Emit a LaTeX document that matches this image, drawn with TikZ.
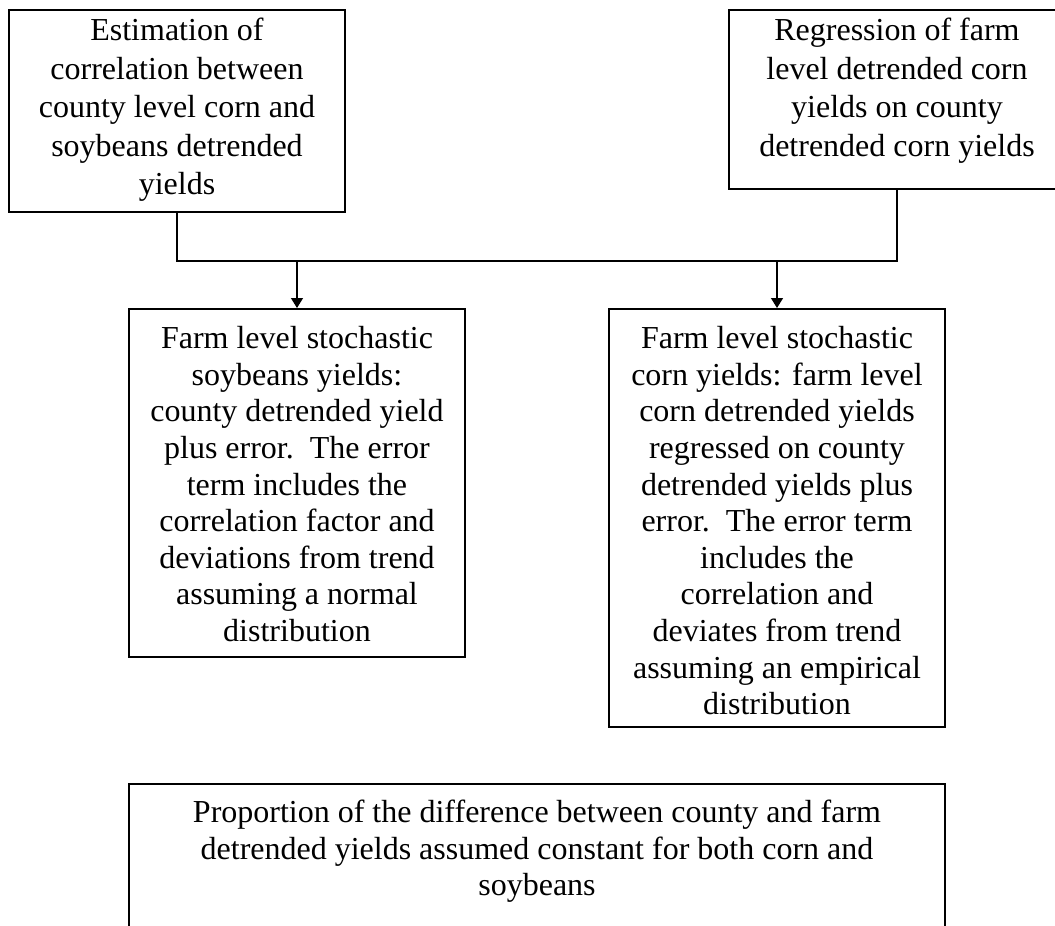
\documentclass[tikz,border=0pt]{standalone}
\usepackage{fontspec}
\setmainfont{Liberation Serif}
\usetikzlibrary{arrows.meta}
\newcommand{\bxt}[5]{\parbox[c][#1pt][t]{#2pt}{\centering\fontsize{32}{#5}\selectfont\vspace*{#3pt}\strut #4\par}}
\tikzset{
  box/.style={draw, line width=1.8pt, inner sep=0pt, outer sep=0pt},
  link/.style={line width=1.3pt},
  arr/.style={link, shorten >=1pt, -{Triangle[length=10pt,width=12pt]}}
}
\begin{document}
\begin{tikzpicture}[x=1pt,y=-1pt]
\fill[white] (0,0) rectangle (1055,926);
\clip (0,0) rectangle (1055,926);
\useasboundingbox (0,0) rectangle (1055,926);
\node[box] (b1) at (177,111) {\bxt{202}{336}{4}{Estimation of\\ correlation between\\ county level corn and\\ soybeans detrended\\ yields}{38.5}};
\node[box] (b2) at (897,99.5) {\bxt{179}{336}{4}{Regression of farm\\ level detrended corn\\ yields on county\\ detrended corn yields}{38.5}};
\node[box] (b3) at (297,483) {\bxt{348}{336}{14}{Farm level stochastic\\ soybeans yields:\\ county detrended yield\\ plus error.\ \ The error\\ term includes the\\ correlation factor and\\ deviations from trend\\ assuming a normal\\ distribution}{36.6}};
\node[box] (b4) at (777,518) {\bxt{418}{336}{14}{Farm level stochastic\\ corn yields: farm level\\ corn detrended yields\\ regressed on county\\ detrended yields plus\\ error.\ \ The error term\\ includes the\\ correlation and\\ deviates from trend\\ assuming an empirical\\ distribution}{36.6}};
\node[box] (b5) at (537,882) {\bxt{196}{816}{13}{Proportion of the difference between county and farm\\ detrended yields assumed constant for both corn and\\ soybeans}{36.6}};
\coordinate (bus) at (0,261);
\draw[link] (b1.south) -- (b1.south |- bus) -- (b2.south |- bus) -- (b2.south);
\draw[arr] (b3.north |- bus) -- (b3.north);
\draw[arr] (b4.north |- bus) -- (b4.north);
\end{tikzpicture}
\end{document}
